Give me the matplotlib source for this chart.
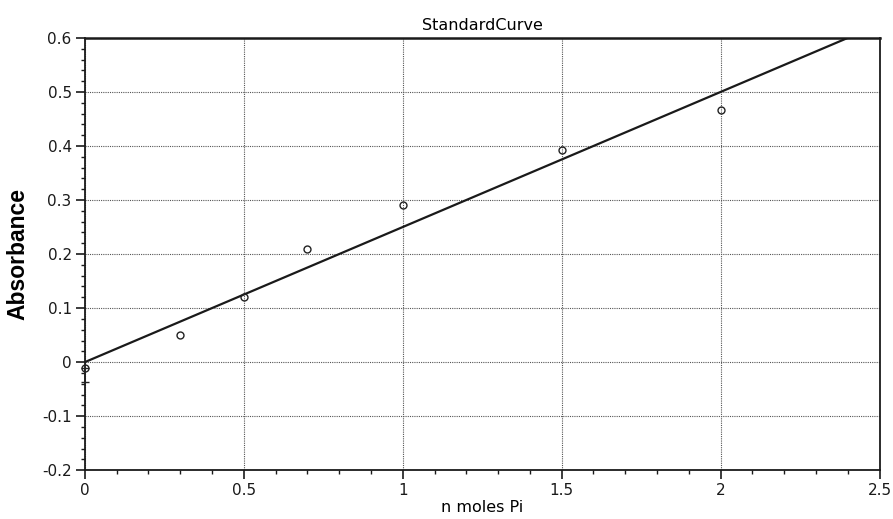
import numpy as np
import matplotlib
matplotlib.use('Agg')
import matplotlib.pyplot as plt
from matplotlib.ticker import MultipleLocator

# data
n_moles = [0.0, 0.3, 0.5, 0.7, 1.0, 1.5, 2.0]
absorbance = [-0.011, 0.051, 0.120, 0.209, 0.291, 0.393, 0.466]

# only the blank has a visible (lower) error bar
err_x = [0.0]
err_y = [-0.011]
err_low = [0.025]

fit_x = [0.0, 2.4]
fit_slope = 0.25
fit_y = [fit_slope * v for v in fit_x]

x_ticks = [0, 0.5, 1, 1.5, 2, 2.5]
x_ticklabels = ['0', '0.5', '1', '1.5', '2', '2.5']
y_ticks = [-0.2, -0.1, 0, 0.1, 0.2, 0.3, 0.4, 0.5, 0.6]
y_ticklabels = ['-0.2', '-0.1', '0', '0.1', '0.2', '0.3', '0.4', '0.5', '0.6']

fig = plt.figure(figsize=(8.93, 5.19), dpi=100)
ax = fig.add_axes([0.095, 0.094, 0.890, 0.833])

ax.set_xlim(0, 2.5)
ax.set_ylim(-0.2, 0.6)

ax.grid(True, which='major', color='#555555', ls=(0, (1, 1)), lw=0.8)
ax.set_axisbelow(True)

ax.plot(fit_x, fit_y, color='#1a1a1a', lw=1.6, zorder=3)
ax.errorbar(err_x, err_y, yerr=[err_low, [0]], fmt='none', ecolor='#222222',
            elinewidth=1.2, capsize=3, zorder=4, clip_on=False)
ax.plot(n_moles, absorbance, 'o', ms=5, mfc='none', mec='#222222', mew=1.0,
        zorder=5, clip_on=False)

ax.set_xticks(x_ticks)
ax.set_xticklabels(x_ticklabels)
ax.set_yticks(y_ticks)
ax.set_yticklabels(y_ticklabels)
ax.xaxis.set_minor_locator(MultipleLocator(0.1))
ax.yaxis.set_minor_locator(MultipleLocator(0.02))
ax.tick_params(axis='both', which='major', direction='out', length=6.5, width=1.2,
               labelsize=11, colors='#1a1a1a', pad=3)
ax.tick_params(axis='both', which='minor', direction='out', length=3, width=1.0,
               colors='#1a1a1a')

for side in ['left', 'bottom', 'right', 'top']:
    ax.spines[side].set_linewidth(1.3)
    ax.spines[side].set_color('#1a1a1a')
ax.spines['top'].set_linewidth(1.8)

ax.set_title('StandardCurve', fontsize=11.5, pad=6)
ax.set_xlabel('n moles Pi', fontsize=11.5, labelpad=1)
ax.set_ylabel('Absorbance', fontsize=16.5, fontweight='bold',
              family=['Liberation Sans', 'DejaVu Sans'], labelpad=9)

fig.savefig('out.png', dpi=100)
